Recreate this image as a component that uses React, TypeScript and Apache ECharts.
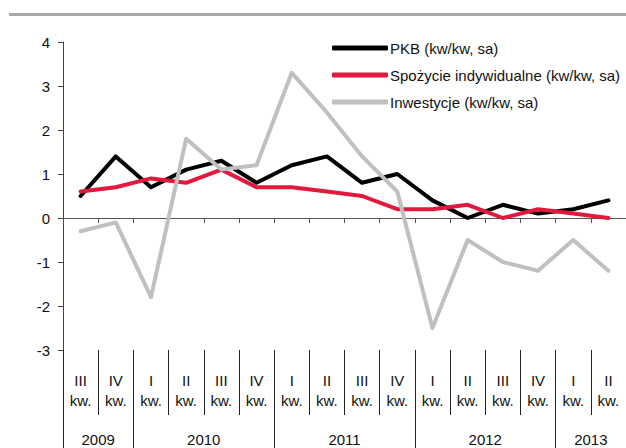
import React, { useEffect, useRef } from "react";
import * as echarts from "echarts";

const quarters = ["III", "IV", "I", "II", "III", "IV", "I", "II", "III", "IV", "I", "II", "III", "IV", "I", "II"];
const years = ["2009", "2010", "2011", "2012", "2013"];
const yearCenters = [1, 4, 8, 12, 15];
const yearBounds = [0, 2, 6, 10, 14, 16];

const pkb = [0.5, 1.4, 0.7, 1.1, 1.3, 0.8, 1.2, 1.4, 0.8, 1.0, 0.4, 0.0, 0.3, 0.1, 0.2, 0.4];
const spozycie = [0.6, 0.7, 0.9, 0.8, 1.1, 0.7, 0.7, 0.6, 0.5, 0.2, 0.2, 0.3, 0.0, 0.2, 0.1, 0.0];
const inwestycje = [-0.3, -0.1, -1.8, 1.8, 1.1, 1.2, 3.3, 2.4, 1.4, 0.6, -2.5, -0.5, -1.0, -1.2, -0.5, -1.2];

const seriesNames = ["PKB (kw/kw, sa)", "Spożycie indywidualne (kw/kw, sa)", "Inwestycje (kw/kw, sa)"];
const colors = ["#000000", "#E2183D", "#C0C0C0"];

const FONT = "'Liberation Sans', Arial, sans-serif";
const FS = 15;

export default function App() {
  const ref = useRef<HTMLDivElement>(null);

  useEffect(() => {
    if (!ref.current) return;
    const chart = echarts.init(ref.current, null, { renderer: "svg" });
    const catIdx = quarters.map((_, i) => String(i));
    const dataSets = [pkb, spozycie, inwestycje];
    chart.setOption({
      animation: false,
      backgroundColor: "#ffffff",
      textStyle: { fontFamily: FONT },
      graphic: [
        {
          type: "line",
          shape: { x1: 9, y1: 14.5, x2: 626, y2: 14.5 },
          style: { stroke: "#A9A9A9", lineWidth: 3 },
        },
      ],
      legend: {
        orient: "vertical",
        left: 327,
        top: 34,
        itemWidth: 56,
        itemHeight: 5,
        itemGap: 9,
        icon: "roundRect",
        data: seriesNames,
        textStyle: { fontSize: FS, color: "#111", fontFamily: FONT, lineHeight: 18, padding: [0, 0, 0, -3] },
      },
      grid: { left: 63, top: 42, width: 566, bottom: 98, containLabel: false },
      xAxis: [
        {
          type: "category",
          data: catIdx,
          position: "bottom",
          boundaryGap: true,
          axisLine: { onZero: true, lineStyle: { color: "#555", width: 1 } },
          axisTick: { show: true, interval: 0, length: 5, lineStyle: { color: "#555" } },
          axisLabel: { show: false },
          splitLine: { show: false },
        },
        {
          type: "category",
          data: catIdx,
          position: "bottom",
          boundaryGap: true,
          axisLine: { show: false, onZero: false },
          axisTick: { show: true, interval: 0, length: 65, lineStyle: { color: "#222" } },
          axisLabel: {
            show: true,
            interval: 0,
            margin: 20,
            fontSize: FS,
            lineHeight: 20,
            color: "#111",
            fontFamily: FONT,
            formatter: (v: string) => quarters[Number(v)] + "\nkw.",
          },
          splitLine: { show: false },
        },
        {
          type: "value",
          min: 0,
          max: 16,
          position: "bottom",
          axisLine: { show: false, onZero: false },
          axisTick: { show: true, length: 98, customValues: yearBounds, lineStyle: { color: "#222" } },
          axisLabel: {
            show: true,
            margin: 80,
            fontSize: FS,
            lineHeight: 18,
            color: "#111",
            fontFamily: FONT,
            customValues: yearCenters,
            formatter: (v: number) => years[yearCenters.indexOf(v)] ?? "",
          },
          splitLine: { show: false },
        },
      ],
      yAxis: {
        type: "value",
        min: -3,
        max: 4,
        interval: 1,
        axisLine: { show: true, lineStyle: { color: "#444" } },
        axisTick: { show: true, length: 5, lineStyle: { color: "#444" } },
        axisLabel: { fontSize: FS, color: "#111", margin: 13, fontFamily: FONT },
        splitLine: { show: false },
      },
      series: dataSets.map((d, i) => ({
        name: seriesNames[i],
        type: "line",
        xAxisIndex: 0,
        data: d,
        symbol: "none",
        showSymbol: false,
        color: colors[i],
        lineStyle: { width: 4, color: colors[i], cap: "round", join: "round" },
        z: 2 + i,
      })),
    });
    return () => chart.dispose();
  }, []);

  return (
    <div
      ref={ref}
      style={{ position: "fixed", left: 0, top: 0, width: 626, height: 448, background: "#fff" }}
    />
  );
}
